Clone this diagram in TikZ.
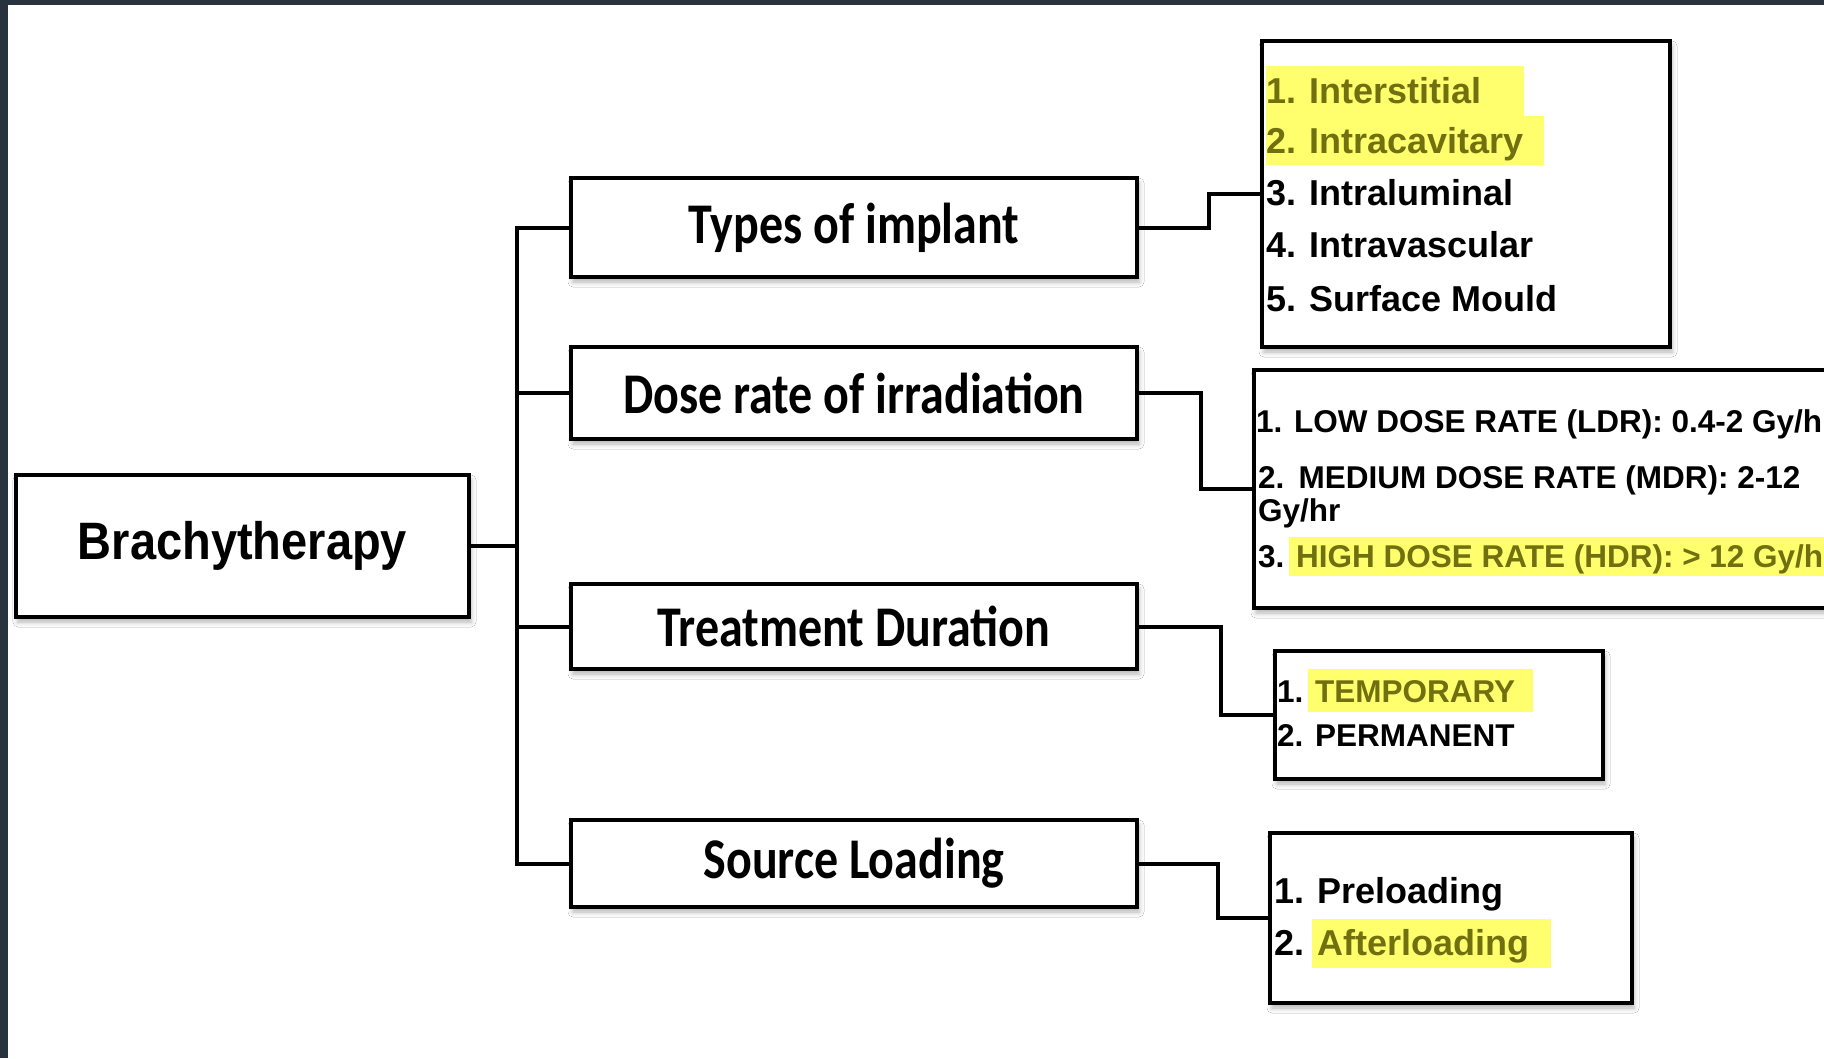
\documentclass[tikz,border=0pt]{standalone}
\usepackage{fontspec}
\usepackage{graphicx}
\setmainfont{Liberation Sans}
\newfontfamily\calib{Carlito}
\usetikzlibrary{shadows.blur}
\definecolor{framec}{RGB}{40,51,61}
\definecolor{hl}{RGB}{255,255,110}
\definecolor{hltext}{RGB}{112,112,16}
\begin{document}
\begin{tikzpicture}[x=1pt,y=-1pt,line join=miter,
  shad/.style={blur shadow={shadow xshift=2pt,shadow yshift=-5pt,shadow blur radius=5pt,shadow opacity=30}},
  mid/.style={draw=black,line width=3.5pt,fill=white,inner sep=0pt,minimum width=566pt,shad,
    font=\calib\bfseries\fontsize{48}{58}\selectfont},
  listbox/.style={draw=black,line width=3.5pt,fill=white,inner sep=0pt,shad},
  itembig/.style={anchor=base west,inner sep=0pt,font=\bfseries\fontsize{36}{40}\selectfont},
  itemsmall/.style={anchor=base west,inner sep=0pt,font=\bfseries\fontsize{31.5}{36}\selectfont},
  conn/.style={line width=4pt}]
\useasboundingbox (0,0) rectangle (1824,1058);
\clip (0,0) rectangle (1824,1058);
\fill[white] (0,0) rectangle (1824,1058);
\fill[framec] (0,0) rectangle (1824,5);
\fill[framec] (0,0) rectangle (8,1058);

% main nodes
\node[listbox,minimum width=453pt,minimum height=142pt,
  font=\bfseries\fontsize{47}{56}\selectfont] (brachy) at (242.5,546) {\scalebox{1}[1.12]{Brachytherapy}};
\node[mid,minimum height=99pt] (types) at (854,227.5) {\scalebox{1}[1.2]{Types of implant}};
\node[mid,minimum height=92pt] (dose) at (854,393) {\scalebox{1}[1.2]{Dose rate of irradiation}};
\node[mid,minimum height=85pt] (dur) at (854,626.5) {\scalebox{1}[1.2]{Treatment Duration}};
\node[mid,minimum height=87pt] (src) at (854,863.5) {\scalebox{1}[1.2]{Source Loading}};

% list boxes
\node[listbox,minimum width=408pt,minimum height=306pt] (tlist) at (1466,194) {};
\node[listbox,minimum width=600pt,minimum height=238pt] (dlist) at (1554,489) {};
\node[listbox,minimum width=328pt,minimum height=128pt] (durlist) at (1439,715) {};
\node[listbox,minimum width=362pt,minimum height=170pt] (srclist) at (1451,918) {};

% bus and connectors
\coordinate (bb) at (517,863.5);
\draw[conn] (types.west) -| (bb) -- (src.west);
\draw[conn] (dose.west) -- (dose.west -| bb);
\draw[conn] (dur.west) -- (dur.west -| bb);
\draw[conn] (brachy.east) -- (brachy.east -| bb);

\draw[conn] (types.east) -- ++(70,0) |- (tlist.west);
\draw[conn] (dose.east) -- ++(62,0) |- (dlist.west);
\draw[conn] (dur.east) -- ++(82,0) |- (durlist.west);
\draw[conn] (src.east) -- ++(79,0) |- (srclist.west);

% highlights
\fill[hl] (1266,66) rectangle (1524,116);
\fill[hl] (1266,116) rectangle (1544,165);
\fill[hl] (1289,537) rectangle (1824,576);
\fill[hl] (1308,669) rectangle (1533,712);
\fill[hl] (1312,919) rectangle (1551,968);

% types list
\node[itembig,text=hltext] (t1) at (1266,103) {1. Interstitial};
\node[itembig,text=hltext] (t2) at (1266,153) {2. Intracavitary};
\node[itembig] (t3) at (1266,205) {3. Intraluminal};
\node[itembig] (t4) at (1266,257) {4. Intravascular};
\node[itembig] (t5) at (1266,311) {5. Surface Mould};

% dose list
\node[itemsmall] (d1) at (1256,432) {1. LOW DOSE RATE (LDR): 0.4-2 Gy/hr};
\node[itemsmall] (d2) at (1258,488) {2.\hspace{0.45em}MEDIUM DOSE RATE (MDR): 2-12};
\node[itemsmall] (d2b) at (1258,521) {Gy/hr};
\node[itemsmall] (d3) at (1258,567) {3. \textcolor{hltext}{HIGH DOSE RATE (HDR): > 12 Gy/hr}};

% duration list
\node[itemsmall] (u1) at (1277,702) {1. \textcolor{hltext}{TEMPORARY}};
\node[itemsmall] (u2) at (1277,746) {2. PERMANENT};

% source list
\node[itembig] (s1) at (1274,903) {1. Preloading};
\node[itembig] (s2) at (1274,955) {2. \textcolor{hltext}{Afterloading}};
\end{tikzpicture}
\end{document}
